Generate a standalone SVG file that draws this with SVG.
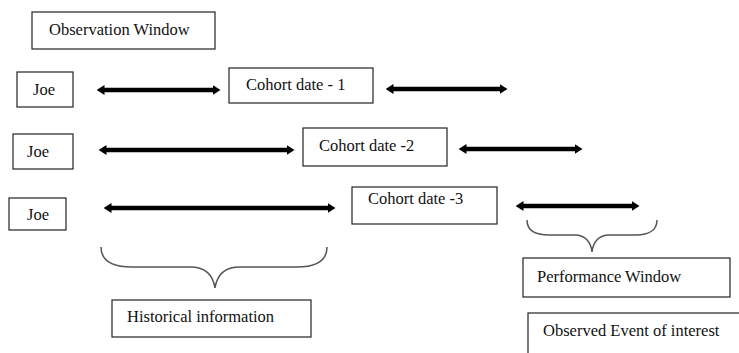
<svg xmlns="http://www.w3.org/2000/svg" width="739" height="353" viewBox="0 0 739 353">
<style>
.box{fill:#fff;stroke:#222;stroke-width:1.2}
text{font-family:'Liberation Serif','Tinos','Times New Roman','DejaVu Serif',serif;font-size:16.5px;fill:#111}
.arr{stroke:#000;stroke-width:4.5;fill:none;marker-start:url(#ah);marker-end:url(#ah)}
.brace{fill:none;stroke:#555;stroke-width:1.5}
</style>
<defs>
<marker id="ah" viewBox="0 0 8 10" refX="0.5" refY="5" markerWidth="8" markerHeight="10" markerUnits="userSpaceOnUse" orient="auto-start-reverse">
<path d="M0,0 L8,5 L0,10 z" fill="#000"/>
</marker>
</defs>
<rect width="739" height="353" fill="#fff"/>
<g id="obs-window"><rect class="box" x="32" y="12" width="183" height="37"/><text font-family="Liberation Serif, DejaVu Serif, serif" x="49" y="35">Observation Window</text></g>
<g id="joe1"><rect class="box" x="17" y="72" width="56" height="35"/><text font-family="Liberation Serif, DejaVu Serif, serif" x="33" y="95">Joe</text></g>
<g id="cohort1"><rect class="box" x="229" y="68" width="144" height="35"/><text font-family="Liberation Serif, DejaVu Serif, serif" x="246" y="90">Cohort date - 1</text></g>
<g id="joe2"><rect class="box" x="13" y="134" width="60" height="35"/><text font-family="Liberation Serif, DejaVu Serif, serif" x="27" y="157">Joe</text></g>
<g id="cohort2"><rect class="box" x="303" y="128" width="144" height="38"/><text font-family="Liberation Serif, DejaVu Serif, serif" x="319" y="151">Cohort date -2</text></g>
<g id="joe3"><rect class="box" x="9" y="198" width="57" height="32"/><text font-family="Liberation Serif, DejaVu Serif, serif" x="27" y="220">Joe</text></g>
<g id="cohort3"><rect class="box" x="352" y="187" width="145" height="37"/><text font-family="Liberation Serif, DejaVu Serif, serif" x="368" y="204">Cohort date -3</text></g>
<g id="perf-window"><rect class="box" x="523" y="258" width="207" height="39"/><text font-family="Liberation Serif, DejaVu Serif, serif" x="537" y="282">Performance Window</text></g>
<g id="observed-event"><rect class="box" x="528" y="313" width="240" height="60"/><text font-family="Liberation Serif, DejaVu Serif, serif" x="543" y="336">Observed Event of interest</text></g>
<g id="historical"><rect class="box" x="112" y="300" width="199" height="37"/><text font-family="Liberation Serif, DejaVu Serif, serif" x="127" y="322">Historical information</text></g>
<g id="connectors">
<line class="arr" x1="104" y1="90" x2="213" y2="90"/>
<line class="arr" x1="393" y1="89" x2="500" y2="89"/>
<line class="arr" x1="106" y1="150" x2="287" y2="150"/>
<line class="arr" x1="466" y1="149" x2="575" y2="149"/>
<line class="arr" x1="111" y1="208" x2="328" y2="208"/>
<line class="arr" x1="523" y1="206" x2="632" y2="206"/>
<path class="brace" d="M101,247 C101,261 112,267 132,267 L190,267 C205,267 213,275 215,288 C217,275 225,267 240,267 L297,267 C317,267 327,261 327,247"/>
<path class="brace" d="M527,220 C527,230 535,235 549,235 L575,235 C585,235 591,242 592,252 C593,242 599,235 609,235 L636,235 C649,235 657,230 657,220"/>
</g>
</svg>
